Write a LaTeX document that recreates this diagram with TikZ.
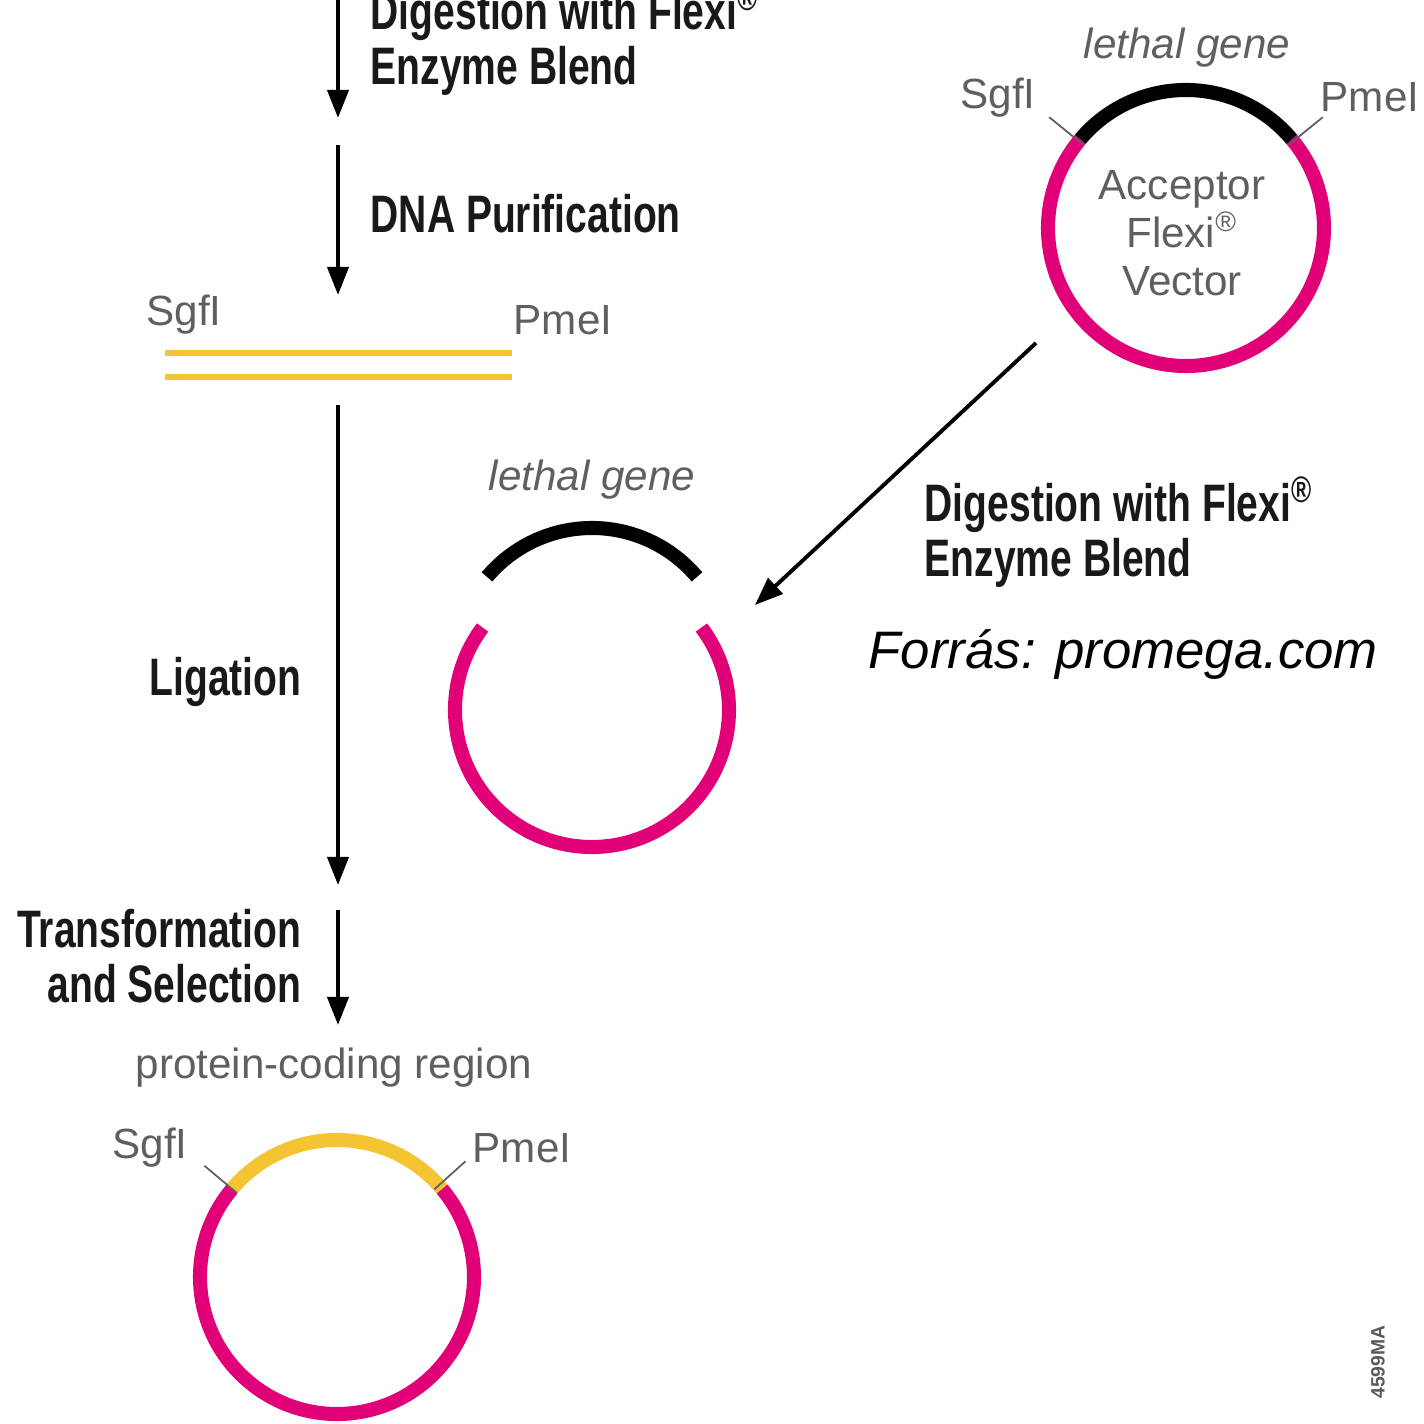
\documentclass[tikz,border=0pt]{standalone}
\usepackage{fontspec}
\setmainfont{Liberation Sans}
\newfontfamily\stepfont[FakeStretch=0.74]{Liberation Sans}
\usetikzlibrary{arrows.meta,calc}

\definecolor{vecpink}{RGB}{226,0,120}
\definecolor{insertyellow}{RGB}{245,196,50}
\definecolor{labelgray}{RGB}{95,95,95}

\tikzset{
		steplabel/.style = {font=\stepfont\bfseries\fontsize{15}{15.6}\selectfont,
				text=black!90, inner sep=0pt},
		sitelabel/.style = {font=\fontsize{12}{13.7}\selectfont,
				text=labelgray, inner sep=0pt},
		genelabel/.style = {sitelabel, font=\itshape\fontsize{12}{13.7}\selectfont},
		vector/.style    = {draw=vecpink, line width=4pt},
		gene/.style      = {draw=black, line width=4pt},
		insert/.style    = {draw=insertyellow, line width=4pt},
		sitetick/.style  = {draw=labelgray, line width=0.5pt},
		flow/.style      = {-{Triangle[length=8pt,width=6pt]}, line width=1.1pt}
	}

\begin{document}
\begin{tikzpicture}
				[x = 0.01cm, y = 0.01cm]
				\useasboundingbox (0,0) rectangle (1424,1424);

				% left column
				\coordinate (s1) at (338,1424);
				\coordinate (e1) at (338,1306);
				\coordinate (s2) at (338,1279);
				\coordinate (e2) at (338,1129);
				\coordinate (s3) at (338,1019);
				\coordinate (e3) at (338,539);
				\coordinate (s4) at (338,514);
				\coordinate (e4) at (338,399);

				\draw[flow] (s1) -- (e1);
				\draw[flow] (s2) -- (e2);
				\draw[flow] (s3) -- (e3);
				\draw[flow] (s4) -- (e4);

				\node[steplabel, anchor=west, align=left] (digestA) at (370,1384)
					{Digestion with Flexi\textsuperscript{®}\\Enzyme Blend};
				\node[steplabel, anchor=west] (purify) at (370,1210) {DNA Purification};
				\node[steplabel, anchor=east] (ligate) at (302,742) {Ligation};
				\node[steplabel, anchor=east, align=right] (select) at (302,468)
					{Transformation\\and Selection};

				% insert
				\node[sitelabel] (insSgf) at (184,1109) {SgfI};
				\node[sitelabel] (insPme) at (563,1104) {PmeI};
				\draw[insert, line width=1.5pt] (165,1071) -- (512,1071);
				\draw[insert, line width=1.5pt] (165,1047) -- (512,1047);

				% acceptor vector
				\coordinate (acceptor) at (1186,1196);
				\draw[vector] ($(acceptor)+(140:138)$) arc[start angle=140, end angle=400, radius=138];
				\draw[gene] ($(acceptor)+(40:138)$) arc[start angle=40, end angle=140, radius=138];
				\draw[sitetick] ($(acceptor)+(141:132)$) -- ($(acceptor)+(141:176)$);
				\draw[sitetick] ($(acceptor)+(39:132)$) -- ($(acceptor)+(39:176)$);
				\node[genelabel] (accGene) at (1187,1376) {lethal gene};
				\node[sitelabel] (accSgf) at (998,1326) {SgfI};
				\node[sitelabel] (accPme) at (1370,1327) {PmeI};
				\node[sitelabel, align=center] (accName) at (1182,1191)
					{Acceptor\\Flexi\textsuperscript{®}\\Vector};

				\coordinate (s5) at (1036,1081);
				\coordinate (e5) at (755,819);
				\draw[flow] (s5) -- (e5);
				\node[steplabel, anchor=west, align=left] (digestB) at (924,892)
					{Digestion with Flexi\textsuperscript{®}\\Enzyme Blend};

				% opened vector
				\coordinate (opened) at (592,714);
				\coordinate (dropped) at (592,759);
				\draw[vector] ($(opened)+(143:137)$) arc[start angle=143, end angle=397, radius=137];
				\draw[gene] ($(dropped)+(40:137)$) arc[start angle=40, end angle=140, radius=137];
				\node[genelabel] (dropGene) at (592,944) {lethal gene};

				% final clone
				\coordinate (final) at (337,147);
				\draw[vector] ($(final)+(140:137)$) arc[start angle=140, end angle=400, radius=137];
				\draw[insert] ($(final)+(40:137)$) arc[start angle=40, end angle=140, radius=137];
				\draw[sitetick] ($(final)+(140:131)$) -- ($(final)+(140:173)$);
				\draw[sitetick] ($(final)+(42:131)$) -- ($(final)+(42:173)$);
				\node[sitelabel] (finCoding) at (334,356) {protein-coding region};
				\node[sitelabel] (finSgf) at (150,276) {SgfI};
				\node[sitelabel] (finPme) at (522,276) {PmeI};

				\node[anchor=west, inner sep=0pt, font=\itshape\fontsize{15}{18}\selectfont]
					(source) at (868,769) {Forrás: promega.com};
				\node[rotate=90, inner sep=0pt, text=black!65,
					font=\bfseries\fontsize{5.5}{6}\selectfont] (figcode) at (1378,62) {4599MA};
			\end{tikzpicture}
\end{document}
